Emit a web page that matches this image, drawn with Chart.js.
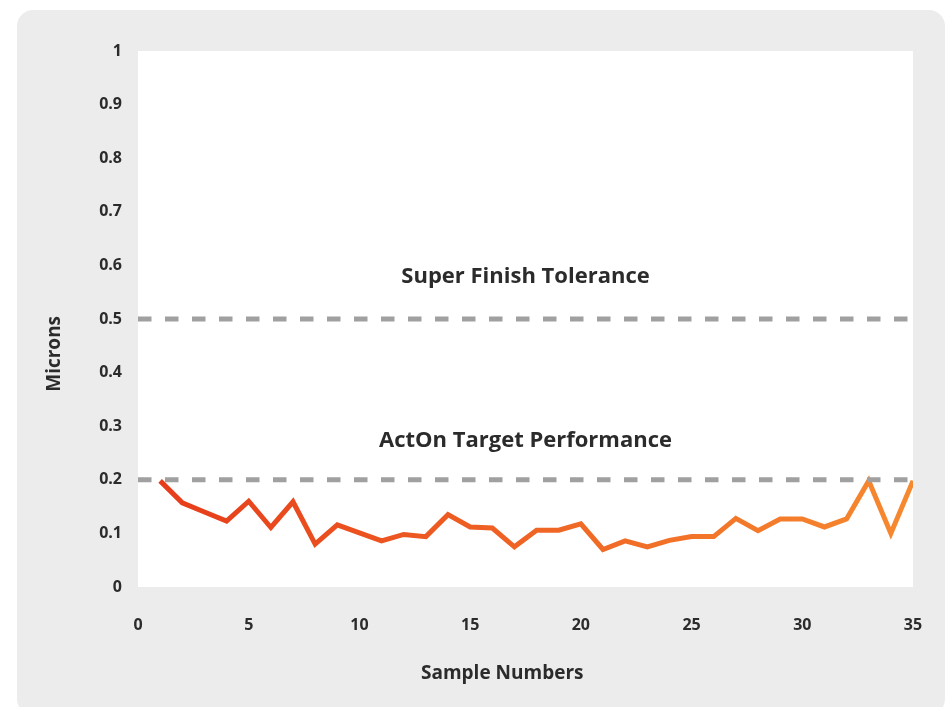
<!DOCTYPE html>
<html>
<head>
<meta charset="utf-8">
<script src="https://cdn.jsdelivr.net/npm/chart.js@4.4.1/dist/chart.umd.min.js"></script>
<style>
  html, body { margin: 0; padding: 0; background: #ffffff; }
  #wrap { width: 947px; height: 707px; position: relative; }
</style>
</head>
<body>
<div id="wrap"><canvas id="c" width="947" height="707"></canvas></div>
<script>
// ---- Data ----
const sampleNumbers = [1,2,3,4,5,6,7,8,9,10,11,12,13,14,15,16,17,18,19,20,21,22,23,24,25,26,27,28,29,30,31,32,33,34,35];
const micronValues = [0.198,0.157,0.140,0.123,0.160,0.111,0.159,0.080,0.116,0.101,0.086,0.098,0.094,0.135,0.112,0.110,0.075,0.106,0.106,0.118,0.070,0.086,0.075,0.087,0.094,0.094,0.128,0.105,0.127,0.127,0.112,0.127,0.198,0.100,0.198];
const toleranceLevels = [0.5, 0.2];
const toleranceLabels = ["Super Finish Tolerance", "ActOn Target Performance"];
const labelYValues = [0.578, 0.273];
const yTicks = [0,0.1,0.2,0.3,0.4,0.5,0.6,0.7,0.8,0.9,1];
const xTicks = [0,5,10,15,20,25,30,35];
const xTitle = "Sample Numbers";
const yTitle = "Microns";

const FONT = "'Open Sans', Lato, sans-serif";
const TEXT = "#2b2b2b";

const points = sampleNumbers.map((x, i) => ({ x: x, y: micronValues[i] }));
const refLines = toleranceLevels.map(v => [{ x: 0, y: v }, { x: 35, y: v }]);

const backgroundPlugin = {
  id: 'panel',
  beforeDraw(chart) {
    const ctx = chart.ctx;
    const ca = chart.chartArea;
    ctx.save();
    ctx.fillStyle = '#ececec';
    ctx.beginPath();
    if (ctx.roundRect) {
      ctx.roundRect(17, 10, 928, 705, 16);
    } else {
      ctx.rect(17, 10, 928, 705);
    }
    ctx.fill();
    ctx.fillStyle = '#ffffff';
    ctx.fillRect(ca.left, ca.top, ca.right - ca.left, ca.bottom - ca.top);
    ctx.restore();
  },
  afterDatasetsDraw(chart) {
    const ctx = chart.ctx;
    const xs = chart.scales.x, ys = chart.scales.y;
    ctx.save();
    ctx.fillStyle = TEXT;
    ctx.font = "bold 22px " + FONT;
    ctx.textAlign = 'center';
    ctx.textBaseline = 'middle';
    const cx = (xs.left + xs.right) / 2;
    toleranceLabels.forEach((t, i) => {
      ctx.fillText(t, cx, ys.getPixelForValue(labelYValues[i]));
    });
    // axis titles
    ctx.font = "bold 19px " + FONT;
    ctx.fillText(xTitle, xs.getPixelForValue(16.45), 674);
    ctx.translate(55, ys.getPixelForValue(0.435));
    ctx.rotate(-Math.PI / 2);
    ctx.fillText(yTitle, 0, 0);
    ctx.restore();
  }
};

function lineGradient(context) {
  const chart = context.chart;
  const ca = chart.chartArea;
  if (!ca) return '#e8401c';
  const g = chart.ctx.createLinearGradient(ca.left, 0, ca.right, 0);
  g.addColorStop(0, '#e63a1a');
  g.addColorStop(0.5, '#ef6424');
  g.addColorStop(1, '#f6892f');
  return g;
}

new Chart(document.getElementById('c'), {
  type: 'line',
  data: {
    datasets: [
      {
        label: toleranceLabels[0],
        data: refLines[0],
        borderColor: '#a0a0a0',
        borderWidth: 5,
        borderDash: [13.5, 13.5],
        pointRadius: 0,
        fill: false
      },
      {
        label: toleranceLabels[1],
        data: refLines[1],
        borderColor: '#a0a0a0',
        borderWidth: 5,
        borderDash: [13.5, 13.5],
        pointRadius: 0,
        fill: false
      },
      {
        label: yTitle,
        data: points,
        borderColor: lineGradient,
        borderWidth: 5,
        borderJoinStyle: 'miter',
        pointRadius: 0,
        tension: 0,
        fill: false
      }
    ]
  },
  options: {
    responsive: false,
    animation: false,
    devicePixelRatio: 1,
    layout: { padding: { left: 0, right: 34, top: 51, bottom: 0 } },
    plugins: {
      legend: { display: false },
      tooltip: { enabled: false }
    },
    scales: {
      x: {
        type: 'linear',
        min: 0,
        max: 35,
        afterFit(scale) { scale.height = 120; scale.paddingRight = 0; scale.paddingLeft = 0; },
        afterBuildTicks(scale) { scale.ticks = xTicks.map(v => ({ value: v })); },
        grid: { display: false, drawTicks: false },
        border: { display: false },
        ticks: {
          padding: 29,
          color: TEXT,
          font: { family: FONT, size: 16, weight: 'bold' },
          maxRotation: 0
        },
        title: { display: false, text: xTitle }
      },
      y: {
        type: 'linear',
        min: 0,
        max: 1,
        afterFit(scale) { scale.width = 138; scale.paddingTop = 0; scale.paddingBottom = 0; },
        afterBuildTicks(scale) { scale.ticks = yTicks.map(v => ({ value: v })); },
        grid: { display: false, drawTicks: false },
        border: { display: false },
        ticks: {
          padding: 16,
          color: TEXT,
          font: { family: FONT, size: 16, weight: 'bold' },
          callback: (v) => String(v)
        },
        title: { display: false, text: yTitle }
      }
    }
  },
  plugins: [backgroundPlugin]
});
</script>
</body>
</html>
